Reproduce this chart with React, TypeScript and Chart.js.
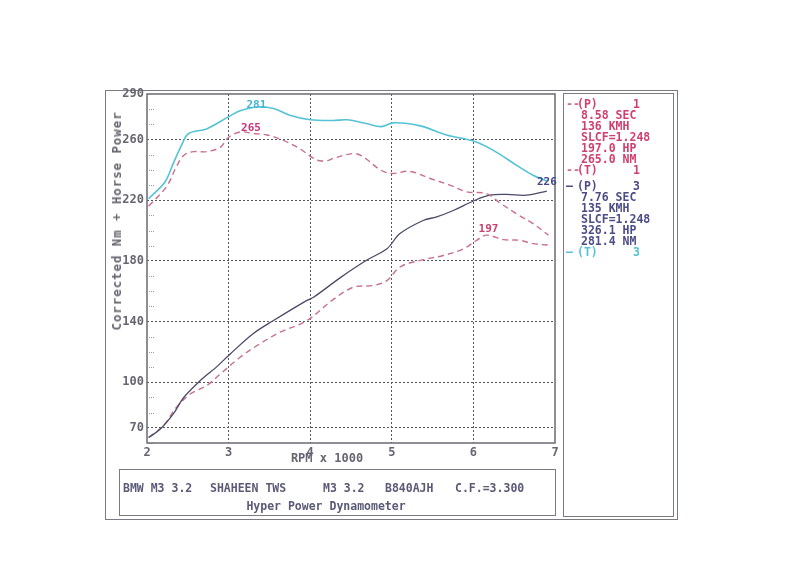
import React, { useEffect, useRef } from "react";
import { Chart, registerables } from "chart.js";

Chart.register(...registerables);

// ---- data (read from the dyno sheet) ----
const rpmT3 = [2.02, 2.22, 2.32, 2.43, 2.51, 2.73, 3.0, 3.14, 3.34, 3.55, 3.75, 4.0, 4.28, 4.45, 4.69, 4.87, 5.02, 5.35, 5.67, 6.0, 6.24, 6.53, 6.73, 6.91];
const torque3 = [221, 232, 244, 257, 264, 267, 275, 279, 281.4, 280.5, 276, 273, 272.5, 273, 270.5, 268.5, 271, 269, 263, 259, 253, 243, 236.5, 232.5];

const rpmT1 = [2.02, 2.24, 2.36, 2.45, 2.57, 2.73, 2.9, 3.0, 3.14, 3.3, 3.47, 3.67, 3.87, 4.08, 4.2, 4.28, 4.53, 4.65, 4.86, 5.0, 5.22, 5.47, 5.71, 5.92, 6.16, 6.33, 6.53, 6.73, 6.92];
const torque1 = [216, 229, 242, 249.5, 252, 252, 255, 261.5, 265, 264, 263, 259.5, 254, 246.5, 246, 247.5, 250.8, 248.6, 240, 237.6, 239, 234.3, 230, 225.5, 224.4, 218, 211, 204.6, 197];

const rpmP3 = [2.02, 2.16, 2.32, 2.45, 2.65, 2.85, 3.02, 3.3, 3.55, 3.96, 4.04, 4.37, 4.69, 4.94, 5.1, 5.39, 5.55, 5.76, 6.0, 6.2, 6.41, 6.65, 6.9];
const power3 = [63.6, 69, 79, 90, 101, 110, 118.7, 132, 140.7, 154, 156, 169, 180.4, 188, 198, 206.8, 209, 213.4, 219.5, 223.3, 223.8, 223.3, 226];

const rpmP1 = [2.02, 2.2, 2.36, 2.53, 2.73, 2.9, 3.14, 3.38, 3.63, 3.96, 4.28, 4.53, 4.77, 4.94, 5.1, 5.35, 5.63, 5.88, 6.04, 6.16, 6.37, 6.57, 6.73, 6.94];
const power1 = [63.6, 71.4, 83.5, 92.3, 97.8, 105.5, 116.5, 125.3, 133, 140.7, 154.5, 162.7, 163.8, 167, 176, 180.4, 183.6, 188, 193.6, 197, 194, 193.6, 191.4, 190.3];

const yTicks = [70, 100, 140, 180, 220, 260, 290];
const xTicks = [2, 3, 4, 5, 6, 7];
const yMinorStep = 10;

const run1Lines = ["8.58 SEC", "136 KMH", "SLCF=1.248", "197.0 HP", "265.0 NM"];
const run3Lines = ["7.76 SEC", "135 KMH", "SLCF=1.248", "326.1 HP", "281.4 NM"];
const footerItems = ["BMW M3 3.2", "SHAHEEN TWS", "M3 3.2", "B840AJH", "C.F.=3.300"];
const footerTitle = "Hyper Power Dynamometer";
const yTitle = "Corrected Nm + Horse Power";
const xTitle = "RPM x 1000";

const MONO = "'DejaVu Sans Mono', 'Liberation Mono', monospace";
const CYAN = "#55c3d5";
const PINK = "#c76f8c";
const NAVY = "#4a4a68";
const RED_TXT = "#d0406e";
const NAVY_TXT = "#4c4c86";
const GREY_TXT = "#666670";

const pts = (xs: number[], ys: number[]) => xs.map((x, i) => ({ x, y: ys[i] }));

const overlayPlugin = {
  id: "dynoOverlay",
  afterDraw(chart: any) {
    const { ctx, chartArea: a, scales } = chart;
    const y = scales.y;
    ctx.save();
    // minor ticks on left axis
    ctx.strokeStyle = "#9a9aa6";
    ctx.lineWidth = 1;
    ctx.setLineDash([1, 1]);
    for (let v = 60; v <= 290; v += yMinorStep) {
      if (yTicks.includes(v)) continue;
      const py = Math.round(y.getPixelForValue(v)) + 0.5;
      ctx.beginPath();
      ctx.moveTo(a.left + 2, py);
      ctx.lineTo(a.left + 8, py);
      ctx.stroke();
    }
    ctx.setLineDash([]);
    // plot border
    ctx.strokeStyle = "#6a6a72";
    ctx.lineWidth = 1.5;
    ctx.strokeRect(a.left, a.top, a.right - a.left, a.bottom - a.top);
    // peak labels
    ctx.font = `bold 11px ${MONO}`;
    ctx.textAlign = "center";
    ctx.textBaseline = "bottom";
    const label = (dsIndex: number, mode: "max" | "last", color: string, dx: number, dy: number) => {
      const ds = chart.data.datasets[dsIndex];
      const meta = chart.getDatasetMeta(dsIndex);
      let idx = ds.data.length - 1;
      if (mode === "max") {
        let best = -Infinity;
        ds.data.forEach((p: any, i: number) => {
          if (p.y > best) { best = p.y; idx = i; }
        });
      }
      const el = meta.data[idx];
      const val = Math.round(ds.data[idx].y);
      ctx.fillStyle = color;
      ctx.fillText(String(val), el.x + dx, el.y + dy);
    };
    label(0, "max", "#45b6d0", 0, 4);
    label(1, "max", "#c8357a", 11, 2);
    label(3, "max", "#c8406e", 2, 0);
    label(2, "last", "#45458c", 0, -3);
    ctx.restore();
  },
};

export default function App() {
  const ref = useRef<HTMLCanvasElement | null>(null);

  useEffect(() => {
    if (!ref.current) return;
    const tickFont = { family: MONO, size: 12, weight: "bold" as const };
    const chart = new Chart(ref.current, {
      type: "line",
      data: {
        datasets: [
          { label: "(T) 3", data: pts(rpmT3, torque3), borderColor: CYAN, borderWidth: 1.6, pointRadius: 0, tension: 0.35, fill: false },
          { label: "(T) 1", data: pts(rpmT1, torque1), borderColor: PINK, borderWidth: 1.4, borderDash: [6, 4], pointRadius: 0, tension: 0.35, fill: false },
          { label: "(P) 3", data: pts(rpmP3, power3), borderColor: NAVY, borderWidth: 1.3, pointRadius: 0, tension: 0.35, fill: false },
          { label: "(P) 1", data: pts(rpmP1, power1), borderColor: PINK, borderWidth: 1.4, borderDash: [6, 4], pointRadius: 0, tension: 0.35, fill: false },
        ],
      },
      options: {
        animation: false,
        responsive: false,
        maintainAspectRatio: false,
        layout: { padding: { left: 0, top: 94, right: 245, bottom: 118 } },
        plugins: { legend: { display: false }, tooltip: { enabled: false } },
        scales: {
          x: {
            type: "linear",
            min: 2,
            max: 7,
            afterBuildTicks: (s: any) => { s.ticks = xTicks.map((v) => ({ value: v })); },
            afterFit: (s: any) => { s.height = 20; },
            grid: {
              drawTicks: false,
              lineWidth: 1,
              color: (c: any) => (c.tick && (c.tick.value === 2 || c.tick.value === 7) ? "rgba(0,0,0,0)" : "#55555f"),
            },
            border: { display: false, dash: [2, 2] },
            ticks: { font: tickFont, color: GREY_TXT, padding: 3, maxRotation: 0, autoSkip: false, callback: (v: any) => String(v) },
          },
          y: {
            type: "linear",
            min: 60,
            max: 290,
            afterBuildTicks: (s: any) => { s.ticks = yTicks.map((v) => ({ value: v })); },
            afterFit: (s: any) => { s.width = 147; },
            grid: {
              drawTicks: false,
              lineWidth: 1,
              color: (c: any) => (c.tick && c.tick.value === 290 ? "rgba(0,0,0,0)" : "#55555f"),
            },
            border: { display: false, dash: [2, 2] },
            ticks: { font: tickFont, color: GREY_TXT, padding: 3, autoSkip: false, callback: (v: any) => String(v) },
          },
        },
      },
      plugins: [overlayPlugin],
    });
    return () => chart.destroy();
  }, []);

  const txt: React.CSSProperties = { position: "absolute", fontFamily: MONO, fontWeight: "bold", fontSize: "11.5px", lineHeight: "12px", whiteSpace: "pre" };
  const box = (l: number, t: number, r: number, b: number): React.CSSProperties => ({
    position: "absolute", left: l, top: t, width: r - l, height: b - t, border: "1.5px solid #7a7a82", boxSizing: "border-box",
  });
  const lineH = 11;
  const run1Top = 98;
  const run3Top = 180;

  return (
    <div style={{ position: "absolute", left: 0, top: 0, width: 800, height: 581, background: "#ffffff", overflow: "hidden" }}>
      <div style={box(105, 90, 678, 520)} />
      <div style={box(563, 93, 674, 517)} />
      <div style={box(119, 469, 556, 516)} />
      <canvas ref={ref} width={800} height={581} style={{ position: "absolute", left: 0, top: 0, width: 800, height: 581 }} />

      {/* axis titles */}
      <div style={{ ...txt, left: 117, top: 221, fontSize: "12.5px", color: GREY_TXT, letterSpacing: "0.9px", transform: "translate(-50%, -50%) rotate(-90deg)" }}>{yTitle}</div>
      <div style={{ ...txt, left: 327, top: 458, fontSize: "12px", color: GREY_TXT, transform: "translate(-50%, -50%)" }}>{xTitle}</div>

      {/* run 1 legend */}
      <div style={{ ...txt, left: 566, top: run1Top, color: PINK }}>--</div>
      <div style={{ ...txt, left: 577, top: run1Top, color: RED_TXT }}>(P)</div>
      <div style={{ ...txt, left: 633, top: run1Top, color: RED_TXT }}>1</div>
      {run1Lines.map((s, i) => (
        <div key={"r1" + i} style={{ ...txt, left: 581, top: run1Top + lineH * (i + 1), color: RED_TXT }}>{s}</div>
      ))}
      <div style={{ ...txt, left: 566, top: run1Top + lineH * 6, color: PINK }}>--</div>
      <div style={{ ...txt, left: 577, top: run1Top + lineH * 6, color: RED_TXT }}>(T)</div>
      <div style={{ ...txt, left: 633, top: run1Top + lineH * 6, color: RED_TXT }}>1</div>

      {/* run 3 legend */}
      <div style={{ ...txt, left: 566, top: run3Top, color: NAVY_TXT }}>—</div>
      <div style={{ ...txt, left: 577, top: run3Top, color: NAVY_TXT }}>(P)</div>
      <div style={{ ...txt, left: 633, top: run3Top, color: NAVY_TXT }}>3</div>
      {run3Lines.map((s, i) => (
        <div key={"r3" + i} style={{ ...txt, left: 581, top: run3Top + lineH * (i + 1), color: NAVY_TXT }}>{s}</div>
      ))}
      <div style={{ ...txt, left: 566, top: run3Top + lineH * 6, color: CYAN }}>—</div>
      <div style={{ ...txt, left: 577, top: run3Top + lineH * 6, color: CYAN }}>(T)</div>
      <div style={{ ...txt, left: 633, top: run3Top + lineH * 6, color: CYAN }}>3</div>

      {/* footer */}
      {footerItems.map((s, i) => (
        <div key={"f" + i} style={{ ...txt, left: [123, 210, 323, 385, 455][i], top: 482, color: "#5a5a78" }}>{s}</div>
      ))}
      <div style={{ ...txt, left: 326, top: 500, color: "#5a5a78", transform: "translateX(-50%)" }}>{footerTitle}</div>
    </div>
  );
}
